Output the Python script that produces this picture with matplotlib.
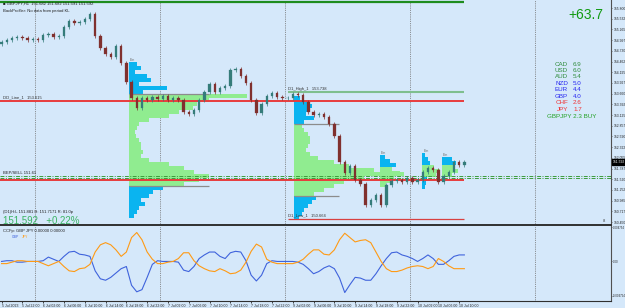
import numpy as np
import matplotlib
matplotlib.use('Agg')
import matplotlib.pyplot as plt
from matplotlib.transforms import blended_transform_factory

plt.rcParams['font.family'] = ['Liberation Sans', 'DejaVu Sans']

BG = '#D5E8FA'
PX_H = 5.2  # pixels per hourly bar in the screenshot

# GBPJPY H1 closes, from 5 Jul 18:00
closes = [154.950, 155.000, 155.050, 155.075, 155.050, 155.000, 155.025, 155.000,
          155.125, 155.150, 155.075, 155.100, 155.325, 155.475, 155.425, 155.450,
          155.525, 155.650, 155.100, 154.800, 154.650, 154.575, 154.850, 154.425,
          153.950, 153.550, 153.300, 153.550, 153.500, 153.575, 153.525, 153.600,
          153.500, 153.550, 153.500, 153.200, 153.150, 153.250, 153.500, 153.700,
          153.900, 153.700, 153.800, 153.850, 154.250, 154.275, 154.100, 153.925,
          153.500, 153.175, 153.400, 153.600, 153.675, 153.575, 153.550, 153.550,
          153.650, 153.625, 153.450, 153.200, 153.125, 153.150, 153.075, 152.900,
          152.600, 151.950, 151.675, 151.850, 151.500, 151.400, 150.875, 151.000,
          151.125, 150.875, 151.375, 151.475, 151.500, 151.450, 151.550, 151.450,
          151.500, 151.700, 151.800, 151.750, 151.450, 151.600, 151.700, 151.950,
          151.875, 151.950]
first_open = 154.900

# CCFp strength lines (x 1e-3)
gbp_line = [0, 0.1, 0.1, -0.1, -0.1, 0, 0, 0, 0.1, 0.6, 0.3, 0, 0.7, 1.3, 1.4, 1.0,
            0.9, 0.7, -1.3, -2.4, -2.6, -2.2, -1.6, -1.0, -0.7, -3.3, -4.2, -3.9, -2.2, -0.4,
            0.1, 0, 0, 0, -0.1, -1.2, -1.4, -0.7, 0.4, 0.9, 1.3, 1.3, 0.7, 0.4, 1.2,
            1.4, 1.3, 0.1, -1.9, -2.7, -1.9, -0.3, 0.1, 0, 0, 0, 0, -0.1, -0.4, -1.0,
            -1.7, -1.4, -0.9, -0.6, -1.0, -2.3, -4.3, -3.2, -2.2, -2.3, -2.6, -2.6, -1.7, -0.6,
            0.4, 1.2, 1.3, 0.9, 0.7, 0.4, 0, 0.4, 0.9, 0.4, -0.4, -0.4, 0.1, 0.7, 0.9, 0.9]
jpy_line = [-0.3, -0.3, -0.1, 0.1, 0.1, 0, 0, 0, -0.3, -0.6, -0.3, 0, -0.7, -1.3, -1.4, -1.0,
            -0.9, -0.4, 1.3, 2.3, 2.6, 2.3, 1.6, 0.7, 1.3, 3.3, 4.0, 3.0, 1.3, 0.3,
            -0.3, -0.3, -0.1, 0, 0.4, 1.2, 1.2, 0.1, -0.6, -1.0, -1.3, -1.4, -1.0, -1.3, -1.7,
            -1.6, -1.2, -0.1, 1.4, 2.4, 2.0, 0.3, -0.1, -0.3, -0.3, -0.3, -0.3, -0.1, 0.3, 1.0,
            1.6, 1.6, 1.0, 0.9, 1.6, 3.0, 3.9, 3.3, 2.7, 2.9, 3.0, 2.6, 1.3, 0,
            -1.0, -1.4, -1.4, -1.2, -0.9, -0.7, -0.6, -0.7, -1.0, -0.7, 0.4, 0, -0.6, -1.0, -1.0, -1.0]

time_labels = ['5 Jul 2023', '5 Jul 22:00', '6 Jul 02:00', '6 Jul 06:00', '6 Jul 10:00',
               '6 Jul 14:00', '6 Jul 18:00', '6 Jul 22:00', '7 Jul 02:00', '7 Jul 06:00',
               '7 Jul 10:00', '7 Jul 14:00', '7 Jul 18:00', '7 Jul 22:00', '9 Jul 02:00',
               '9 Jul 06:00', '9 Jul 10:00', '9 Jul 14:00', '9 Jul 18:00', '9 Jul 22:00',
               '10 Jul 02:00', '10 Jul 06:00', '10 Jul 10:00']
day_breaks = [6.5, 30.5, 54.5, 78.5, 102.5]

strength_names = ['CAD', 'USD', 'AUD', 'NZD', 'EUR', 'GBP', 'CHF', 'JPY']
strength_values = [6.9, 6.0, 5.4, 5.0, 4.4, 4.0, 2.6, 1.7]

# levels
top_level = 155.95
dd_line = 153.475
d1_high = 153.70
d1_low = 150.525
red_low = 151.50
dash_levels = [151.61, 151.54]

# volume profiles (volume in screen px), bins of 0.1
p1_start, p1_top = 24.5, 154.45
p1_vol = [8, 12, 6, 18, 22, 10, 38, 14, 118, 80, 68, 64, 50, 40, 20, 10, 8, 6, 7, 10,
          12, 12, 14, 12, 20, 40, 55, 65, 80, 70, 55, 34, 24, 20, 12, 16, 10, 8, 5]
p1_va = (8, 30)
p2_start, p2_top = 56.3, 153.60
p2_vol = [6, 14, 18, 16, 12, 20, 10, 8, 10, 14, 16, 16, 14, 12, 16, 24, 40, 55, 80,
          110, 70, 50, 40, 30, 20, 22, 18, 14, 10, 8, 5]
p2_va = (7, 24)
p3_start, p3_top = 72.8, 152.125
p3_vol = [5, 10, 16, 12, 20, 14, 10, 6]
p3_va = (3, 7)
p4_start, p4_top = 80.9, 152.175
p4_vol = [3, 6, 8, 12, 18, 14, 5, 4, 3]
p4_va = (3, 5)
p5_start, p5_top = 84.7, 152.075
p5_vol = [10, 14, 12, 16, 10]
p5_va = (2, 4)

fig = plt.figure(figsize=(6.25, 3.08), dpi=100, facecolor=BG)
W, H = 625, 308
ax = fig.add_axes([0, (H - 225) / H, 611 / W, 225 / H], facecolor=BG)
ax2 = fig.add_axes([0, (H - 301) / H, 611 / W, 75 / H], facecolor=BG)

xmin, xmax = -0.3, 611 / PX_H - 0.3
for a in (ax, ax2):
    a.set_xlim(xmin, xmax)
    for s in ('top', 'left'):
        a.spines[s].set_visible(False)
    a.spines['right'].set_color('#505050')
    a.spines['right'].set_linewidth(0.8)
    a.spines['bottom'].set_color('#303030')
    a.yaxis.tick_right()
    a.tick_params(axis='y', labelsize=2.4, length=1, pad=0.6, width=0.4, colors='#202020')
    for b in day_breaks:
        a.axvline(b, color='#707070', ls=(0, (1, 1.2)), lw=0.6, zorder=1)

ax.set_ylim(150.375, 156.0)
ax.spines['bottom'].set_linewidth(1.4)
ax.set_xticks([])
ticks = np.arange(155.80, 150.40, -0.2675)
ax.set_yticks(ticks)
ax.set_yticklabels([f'{t:.3f}' for t in ticks])

# volume profiles
CYAN, VAG = '#0AB4F0', '#90EC90'
def profile(start, top, vols, va):
    vols = np.array(vols, dtype=float)
    n = len(vols)
    bottoms = top - (np.arange(n) + 1) * 0.1
    cols = [VAG if va[0] <= i <= va[1] else CYAN for i in range(n)]
    ax.barh(bottoms, vols / PX_H, height=0.1, left=start, align='edge',
            color=cols, lw=0, zorder=2)

profile(p1_start, p1_top, p1_vol, p1_va)
profile(p2_start, p2_top, p2_vol, p2_va)
profile(p3_start, p3_top, p3_vol, p3_va)
profile(p4_start, p4_top, p4_vol, p4_va)
profile(p5_start, p5_top, p5_vol, p5_va)
for st, top, va in [(p1_start, p1_top, p1_va), (p2_start, p2_top, p2_va)]:
    ln = 80 / PX_H if st == p1_start else 45 / PX_H
    ax.hlines([top - va[0] * 0.1, top - (va[1] + 1) * 0.1], st, st + ln,
              color='#8C8C8C', lw=0.9, zorder=2)
for st, top in [(p1_start, p1_top), (p3_start, p3_top), (p4_start, p4_top), (p5_start, p5_top)]:
    ax.text(st + 0.2, top + 0.03, 'Em', fontsize=2.5, color='#707070', zorder=4)

# level lines
last = len(closes) - 1
ax.hlines(top_level, xmin, last, color='#1E8C1E', lw=1.6, zorder=3)
ax.hlines(dd_line, xmin, last, color='#E83C3C', lw=1.4, zorder=3)
ax.hlines(red_low, xmin, last, color='#E83C3C', lw=1.4, zorder=3)
ax.hlines(d1_high, p2_start - 1.3, last, color='#7FBF8F', lw=1.5, zorder=3)
ax.hlines(d1_low, p2_start - 1.3, last, color='#D84040', lw=0.9, zorder=3)
for lv in dash_levels:
    ax.axhline(lv, color='#3C9C3C', lw=0.7, ls=(0, (4, 1.5, 1, 1.5)), zorder=3)

ax.text(0.2, dd_line + 0.06, 'DD_Line_1   153.615', fontsize=3, color='#303030', zorder=5)
ax.text(p2_start - 1.2, d1_high + 0.06, 'D1_High_1   153.738', fontsize=3, color='#303030', zorder=5)
ax.text(p2_start - 1.2, d1_low + 0.06, 'D1_Low_1   150.664', fontsize=3, color='#303030', zorder=5)

# candles
opens = [first_open] + closes[:-1]
hrs = np.arange(len(closes))
o = np.array(opens)
c = np.array(closes)
up = c >= o
WICK = 0.05
col = np.where(up, '#357C7A', '#80302E')
ax.vlines(hrs, np.minimum(o, c) - WICK, np.maximum(o, c) + WICK, color=col, lw=0.5, zorder=4)
ax.bar(hrs, np.where(np.abs(c - o) < 0.01, 0.01, c - o), bottom=o, width=0.45,
       color=col, edgecolor=col, lw=0.2, zorder=4)

# price tag
tr = blended_transform_factory(ax.transAxes, ax.transData)
ax.text(1.002, closes[-1], '151.592', transform=tr, fontsize=2.4, color='white',
        va='center', ha='left', zorder=6, clip_on=False,
        bbox=dict(boxstyle='square,pad=0.2', fc='black', ec='black'))

# indicator
ax2.set_ylim(-5.47, 4.9)
ax2.plot(hrs, gbp_line, color='#3F63DC', lw=0.8)
ax2.plot(hrs, jpy_line, color='#FF9A14', lw=0.8)
ax2.set_yticks([4.754, 0, -4.754])
ax2.set_yticklabels(['0.004754', '0.00', '-0.004754'])
ax2.tick_params(axis='y', labelsize=2.0, pad=0.4)
ax2.set_xticks(np.arange(0, 4 * len(time_labels), 4))
ax2.set_xticklabels(time_labels, fontsize=2.5, ha='left', color='#202020')
ax2.tick_params(axis='x', length=1.5, pad=1, width=0.5)

# texts (pixel positions)
def ft(x, y, s, **kw):
    fig.text(x / W, 1 - y / H, s, **kw)

ft(3, 4, '\u25a0 GBPJPY,H1  151.682 151.682 151.591 151.592', fontsize=3, color='#202020', va='center')
ft(3, 11, 'BackProfiler: No data from period KL', fontsize=3, color='#202020', va='center')
ft(603, 15, '+63.7', fontsize=10, color='#129A12', ha='right', va='center')
name_cols = ['#2E8B3A'] * 3 + ['#2525F0'] * 3 + ['#F03030'] * 2
for i, (n, v) in enumerate(zip(strength_names, strength_values)):
    y = 64 + i * 6.5
    ft(568, y, n, fontsize=4.5, color=name_cols[i], ha='right', va='center')
    ft(573, y, f'{v:.1f}', fontsize=4.5, color=name_cols[i], ha='left', va='center')
ft(547, 64 + 8 * 6.5, 'GBPJPY 2.3 BUY', fontsize=4.5, color='#22A022', ha='left', va='center')
ft(3, 173.5, 'BEP/SELL 151.61', fontsize=3, color='#202020', va='center')
ft(3, 212, '(D1)H:L 151.881 H: 151.7171 R: 81.0p', fontsize=3, color='#202020', va='center')
ft(3, 221, '151.592   +0.22%', fontsize=7, color='#3CB464', va='center')
ft(3, 231, 'CCFp: GBP JPY 0.00000 0.00000', fontsize=3, color='#202020', va='center')
ft(12, 237, 'GBP', fontsize=2.5, color='#3F63DC', va='center')
ft(22, 237, 'JPY', fontsize=2.5, color='#FF9A14', va='center')
ft(603, 221, '8', fontsize=3, color='#404040', va='center')

fig.savefig('out.png', dpi=100, facecolor=BG)
